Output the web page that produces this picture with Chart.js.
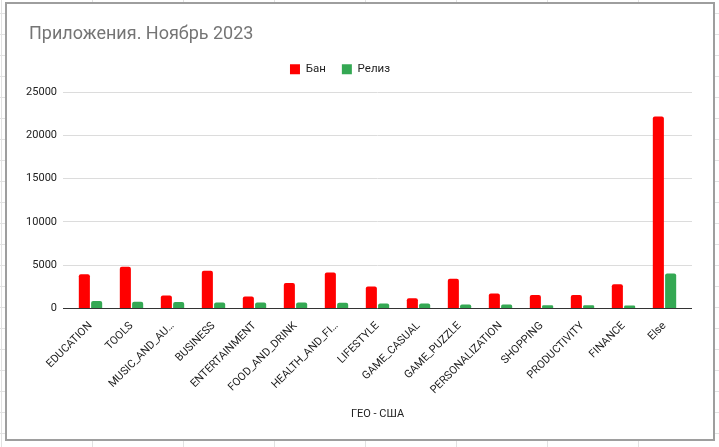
<!DOCTYPE html>
<html>
<head>
<meta charset="utf-8">
<script src="https://cdn.jsdelivr.net/npm/chart.js@4.4.0/dist/chart.umd.min.js"></script>
<style>
  html, body { margin: 0; padding: 0; }
  body {
    width: 719px; height: 447px; overflow: hidden; position: relative;
    background-color: #fff;
    background-image:
      linear-gradient(to right, #e2e2e2 1px, transparent 1px),
      linear-gradient(to bottom, #e2e2e2 1px, transparent 1px);
    background-size: 91px 21px;
    background-position: 1px 13px;
  }
  #box { position: absolute; left: 5px; top: 2px; width: 706px; height: 435px; border: 2px solid #9e9e9e; background: #fff; }
  #wrap { position: absolute; left: 0; top: 0; width: 719px; height: 447px; }
</style>
</head>
<body>
<div id="box"></div>
<div id="wrap"><canvas id="chart"></canvas></div>
<script>
// данные графика
const categories = ['EDUCATION', 'TOOLS', 'MUSIC_AND_AU…', 'BUSINESS', 'ENTERTAINMENT', 'FOOD_AND_DRINK',
    'HEALTH_AND_FI…', 'LIFESTYLE', 'GAME_CASUAL', 'GAME_PUZZLE', 'PERSONALIZATION', 'SHOPPING',
    'PRODUCTIVITY', 'FINANCE', 'Else'];
const banValues = [3960, 4810, 1490, 4350, 1370, 2930, 4160, 2520, 1180, 3430, 1720, 1560, 1560, 2780, 22170];
const releaseValues = [870, 760, 750, 690, 680, 680, 670, 570, 560, 460, 450, 370, 360, 350, 4040];
const yTicks = [0, 5000, 10000, 15000, 20000, 25000];

const FONT = 'Roboto, Arial, sans-serif';
const gridColor = c => (c.tick && c.tick.value === 0) ? '#333333' : '#dcdcdc';

// подгонка положения заголовка и легенды
const nudge = {
    id: 'nudge',
    afterLayout(chart) {
        chart.legend.left -= 19;
        chart.legend.right -= 19;
        chart.legend.top -= 7;
        chart.legend.bottom -= 7;
        chart.titleBlock.left += 3;
        chart.titleBlock.right += 3;
    }
};

new Chart(document.getElementById('chart'), {
    type: 'bar',
    data: {
        labels: categories,
        datasets: [
            { label: 'Бан', data: banValues, backgroundColor: '#ff0000', borderRadius: 2, borderSkipped: 'start' },
            { label: 'Релиз', data: releaseValues, backgroundColor: '#34a853', borderRadius: 2, borderSkipped: 'start' }
        ]
    },
    options: {
        responsive: true,
        maintainAspectRatio: false,
        animation: false,
        categoryPercentage: 0.6,
        barPercentage: 0.9,
        layout: { padding: { left: 26, right: 27, top: 24, bottom: 26 } },
        plugins: {
            title: {
                display: true, text: 'Приложения. Ноябрь 2023', align: 'start',
                color: '#757575', font: { family: FONT, size: 18, weight: 'normal' },
                padding: { top: 0, bottom: 9 }
            },
            legend: {
                position: 'top',
                labels: {
                    boxWidth: 10, boxHeight: 10, padding: 16, color: '#222',
                    font: { family: FONT, size: 11.5 }
                }
            },
            tooltip: { enabled: false }
        },
        scales: {
            x: {
                grid: { display: false },
                border: { display: false },
                ticks: {
                    color: '#222', font: { family: FONT, size: 11 },
                    minRotation: 45, maxRotation: 45, autoSkip: false, padding: 3
                },
                title: {
                    display: true, text: 'ГЕО - США', color: '#222',
                    font: { family: FONT, size: 11 }, padding: { top: 8, bottom: 0 }
                }
            },
            y: {
                min: 0, max: 25000,
                afterBuildTicks: s => { s.ticks = yTicks.map(v => ({ value: v })); },
                afterFit: s => { s.width = 44; },
                grid: { color: gridColor, tickLength: 7, drawTicks: true },
                border: { display: false },
                ticks: {
                    color: '#222', font: { family: FONT, size: 11 }, padding: 6,
                    callback: v => String(v)
                }
            },
            y2: {
                position: 'right',
                min: 0, max: 25000,
                afterBuildTicks: s => { s.ticks = yTicks.map(v => ({ value: v })); },
                afterFit: s => { s.width = 7; },
                grid: { color: gridColor, tickLength: 7, drawTicks: true, drawOnChartArea: false },
                border: { display: false },
                ticks: { display: false }
            }
        }
    },
    plugins: [nudge]
});
</script>
</body>
</html>
